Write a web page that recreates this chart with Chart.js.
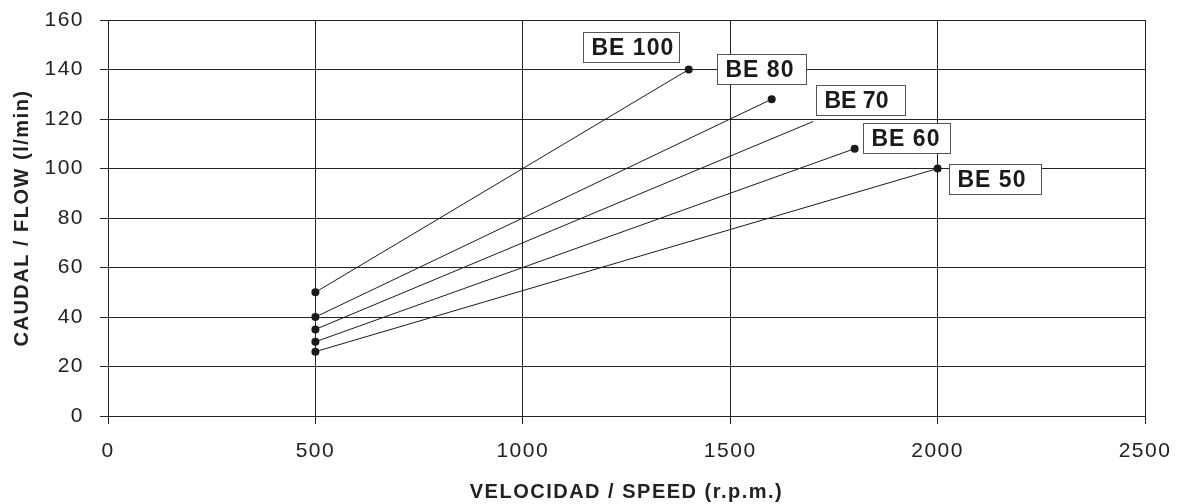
<!DOCTYPE html>
<html>
<head>
<meta charset="utf-8">
<script src="https://cdn.jsdelivr.net/npm/chart.js@4/dist/chart.umd.min.js"></script>
<style>
  html, body { margin: 0; padding: 0; background: #fff; }
  #wrap { width: 1181px; height: 504px; }
</style>
</head>
<body>
<div id="wrap"><canvas id="flowChart"></canvas></div>
<script>
// pump models and their speed / flow ranges
const models = ['BE 100', 'BE 80', 'BE 70', 'BE 60', 'BE 50'];
const speedMin = [500, 500, 500, 500, 500];
const speedMax = [1400, 1600, 1700, 1800, 2000];
const flowMin = [50, 40, 35, 30, 26];
const flowMax = [140, 128, 119, 108, 100];
const endDot = [true, true, false, true, true];

const xTicks = [0, 500, 1000, 1500, 2000, 2500];
const yTicks = [0, 20, 40, 60, 80, 100, 120, 140, 160];

// label box placement relative to the end point (px)
const boxStyle = [
    { dx: -106, dy: -38, w: 96, sp: 1 },
    { dx: -55, dy: -45, w: 89, sp: 1 },
    { dx: 3, dy: -36, w: 89, sp: 0 },
    { dx: 8, dy: -26, w: 87, sp: 1 },
    { dx: 11, dy: -5, w: 92, sp: 1 },
];

const ink = '#1a1a1a';
const fam = '"Liberation Sans", Arial, sans-serif';

const spacing = {
    id: 'spacing',
    beforeDraw(chart) { chart.ctx.letterSpacing = '1.5px'; },
};

const modelLabels = {
    id: 'modelLabels',
    afterDatasetsDraw(chart) {
        const ctx = chart.ctx;
        ctx.save();
        chart.data.datasets.forEach((ds, i) => {
            const pt = chart.getDatasetMeta(i).data[1];
            const o = boxStyle[i];
            const x = Math.round(pt.x + o.dx) + 0.5;
            const y = Math.round(pt.y + o.dy) + 0.5;
            ctx.fillStyle = '#fff';
            ctx.strokeStyle = '#555';
            ctx.lineWidth = 1;
            ctx.fillRect(x, y, o.w, 30);
            ctx.strokeRect(x, y, o.w, 30);
            ctx.fillStyle = ink;
            ctx.letterSpacing = o.sp + 'px';
            ctx.font = 'bold 23px ' + fam;
            ctx.textBaseline = 'middle';
            ctx.textAlign = 'left';
            ctx.fillText(ds.label, x + 8, y + 16);
        });
        ctx.restore();
    }
};

const datasets = models.map((m, i) => ({
    label: m,
    data: [
        { x: speedMin[i], y: flowMin[i] },
        { x: speedMax[i], y: flowMax[i] },
    ],
    borderColor: ink,
    borderWidth: 1,
    backgroundColor: ink,
    pointRadius: [4, endDot[i] ? 4 : 0],
    pointBorderWidth: 0,
    showLine: true,
    fill: false,
}));

new Chart(document.getElementById('flowChart'), {
    type: 'scatter',
    data: { datasets },
    plugins: [spacing, modelLabels],
    options: {
        responsive: true,
        maintainAspectRatio: false,
        animation: false,
        layout: { padding: { top: 20, right: 36, left: 0, bottom: 0 } },
        plugins: {
            legend: { display: false },
            tooltip: { enabled: false },
        },
        scales: {
            x: {
                type: 'linear',
                min: 0,
                max: 2500,
                afterBuildTicks: s => { s.ticks = xTicks.map(v => ({ value: v })); },
                afterFit: s => { s.height = 88; s.paddingLeft = 0; s.paddingRight = 0; },
                grid: { color: '#222', lineWidth: 1, tickLength: 8, drawTicks: true },
                border: { color: '#222', width: 1 },
                ticks: {
                    color: '#222',
                    padding: 15,
                    maxRotation: 0,
                    callback: v => String(v),
                    font: { family: fam, size: 21 },
                },
                title: {
                    display: true,
                    text: 'VELOCIDAD / SPEED (r.p.m.)',
                    color: '#222',
                    padding: { top: 10, bottom: 0 },
                    font: { family: fam, size: 20, weight: 'bold' },
                },
            },
            y: {
                min: 0,
                max: 160,
                afterBuildTicks: s => { s.ticks = yTicks.map(v => ({ value: v })); },
                afterFit: s => { s.width = 108; s.paddingTop = 0; s.paddingBottom = 0; },
                grid: { color: '#222', lineWidth: 1, tickLength: 8, drawTicks: true },
                border: { color: '#222', width: 1 },
                ticks: {
                    color: '#222',
                    padding: 16,
                    callback: v => String(v),
                    font: { family: fam, size: 21 },
                },
                title: {
                    display: true,
                    text: 'CAUDAL / FLOW (l/min)',
                    color: '#222',
                    padding: { top: 10, bottom: 0 },
                    font: { family: fam, size: 20, weight: 'bold' },
                },
            },
        },
    },
});
</script>
</body>
</html>
